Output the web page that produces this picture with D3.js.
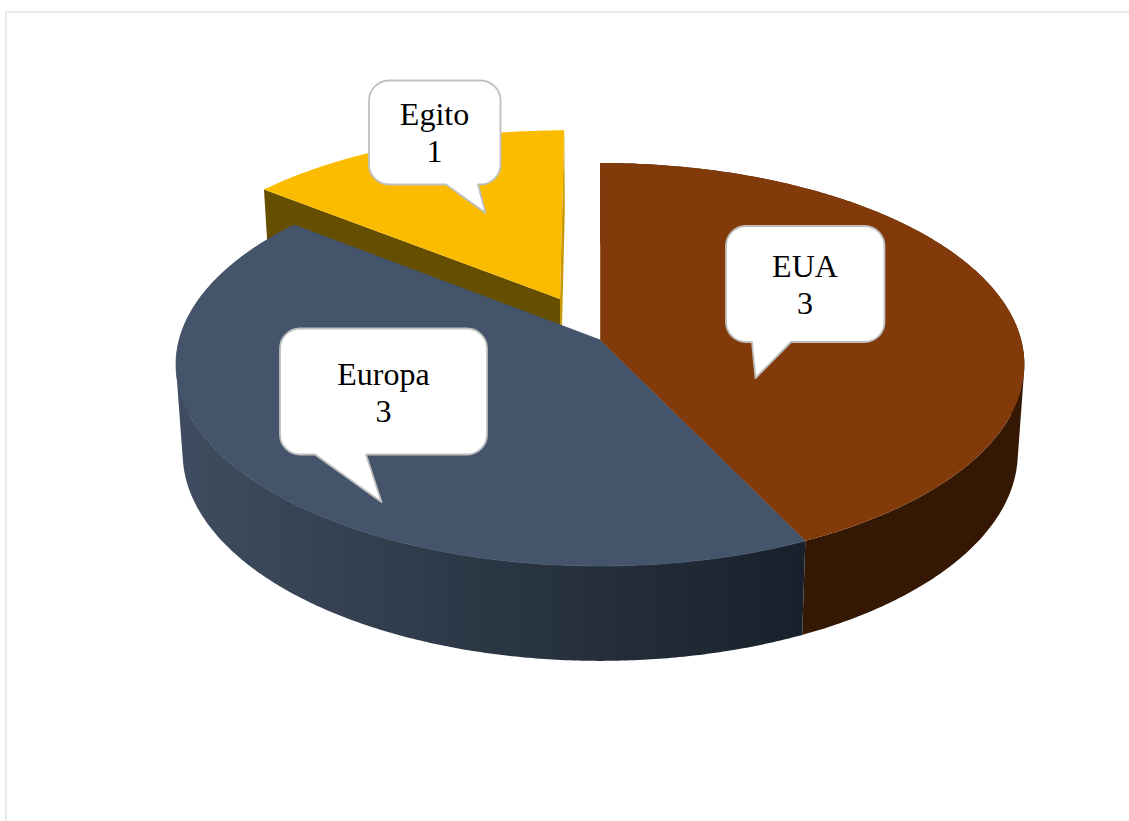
<!DOCTYPE html>
<html lang="pt">
<head>
<meta charset="utf-8">
<title>Egito, EUA, Europa</title>
<script src="https://cdn.jsdelivr.net/npm/d3@7/dist/d3.min.js"></script>
<style>
  html, body { margin: 0; padding: 0; background: #fff; overflow: hidden; }
  svg { display: block; }
  text { font-family: "Liberation Serif", serif; font-size: 32px; fill: #000; text-anchor: middle; }
</style>
</head>
<body>
<svg id="chart" width="1129" height="821"></svg>
<script>
// Slice data, in drawing order clockwise from twelve o'clock
const categories = ["EUA", "Europa", "Egito"];
const values = [3, 3, 1];
const explodedCategory = "Egito";

const topColors = { EUA: "#823a0b", Europa: "#44546a", Egito: "#fbbc00" };
const sideColors = { EUA: ["#341803", "#341803"], Europa: ["#3f4c5f", "#18212b"] };

// Perspective planes of the tilted disc: top face and bottom face
const topPlane = { cx: 600.2, cy: 340, a: 421, b: 198.5, k: 0.1216 };
const bottomPlane = { cx: 600.2, cy: 427.5, a: 414.5, b: 205, k: 0.1216 };
const explodeOffset = [-0.098, -0.212];

const project = (plane, x, y) => {
  const d = 1 - plane.k * y;
  return [plane.cx + plane.a * x / d, plane.cy + plane.b * y / d];
};

const svg = d3.select("#chart");
const defs = svg.append("defs");

// Thin panel border that runs off the right and bottom
svg.append("rect")
  .attr("x", 6).attr("y", 12).attr("width", 1300).attr("height", 1000)
  .attr("fill", "#fff").attr("stroke", "#e4e6e9").attr("stroke-width", 1.6);

const slices = d3.pie().sort(null)(values).map((s, i) => {
  const name = categories[i];
  const [ox, oy] = name === explodedCategory ? explodeOffset : [0, 0];
  return { name, start: s.startAngle, end: s.endAngle, ox, oy };
});
const byName = Object.fromEntries(slices.map(s => [s.name, s]));

const rimPoint = (plane, s, angle) =>
  project(plane, s.ox + Math.sin(angle), s.oy - Math.cos(angle));
const centerPoint = (plane, s) => project(plane, s.ox, s.oy);
const anglesOf = s => {
  const step = Math.PI / 360;
  return d3.range(s.start, s.end, step).concat([s.end]);
};
const polygon = d3.line();

// Curved outer wall: one compound path of same-wound quads, so the silhouette
// stays tangent between the two rims, with the shade running along screen x
function drawWall(s) {
  const id = "wall-" + s.name;
  defs.append("linearGradient")
    .attr("id", id)
    .attr("gradientUnits", "userSpaceOnUse")
    .attr("x1", 184).attr("x2", 803).attr("y1", 0).attr("y2", 0)
    .selectAll("stop").data(sideColors[s.name]).join("stop")
    .attr("offset", (d, i) => i)
    .attr("stop-color", d => d);
  const quads = d3.pairs(anglesOf(s)).map(([a0, a1]) => {
    const q = [
      rimPoint(topPlane, s, a0), rimPoint(topPlane, s, a1),
      rimPoint(bottomPlane, s, a1), rimPoint(bottomPlane, s, a0)
    ];
    return d3.polygonArea(q) < 0 ? q.reverse() : q;
  });
  svg.append("path")
    .attr("d", quads.map(q => polygon(q) + "Z").join(""))
    .attr("fill", `url(#${id})`);
}

function drawTop(s, seam) {
  const rim = anglesOf(s).map(a => rimPoint(topPlane, s, a));
  svg.append("path")
    .attr("d", polygon([centerPoint(topPlane, s), ...rim]) + "Z")
    .attr("fill", topColors[s.name])
    .attr("stroke", seam ? topColors[s.name] : "none")
    .attr("stroke-width", seam ? 0.8 : 0);
}

// Exploded slice: its two cut faces first, then its top
const eg = byName[explodedCategory];
const cutFace = (angle, fill) => svg.append("path")
  .attr("d", polygon([
    centerPoint(topPlane, eg), rimPoint(topPlane, eg, angle),
    rimPoint(bottomPlane, eg, angle), centerPoint(bottomPlane, eg)
  ]) + "Z")
  .attr("fill", fill);
cutFace(eg.end, "#c99800");
cutFace(eg.start, "#664e00");
drawTop(eg, false);

// Main body of the disc; the lower top face gets a hairline so no gap shows at the shared edge
drawWall(byName.EUA);
drawWall(byName.Europa);
drawTop(byName.Europa, true);
drawTop(byName.EUA, false);

// Speech-bubble data labels
const callouts = [
  { name: "Egito",  x0: 369, x1: 500.5, y0: 80.5,  y1: 184.5, base: [446, 478],   tip: [485.5, 213], cx: 434.5, b0: 125,   b1: 162 },
  { name: "EUA",    x0: 726, x1: 884.5, y0: 226,   y1: 342,   base: [752, 791],   tip: [755.5, 378], cx: 805,   b0: 277,   b1: 314 },
  { name: "Europa", x0: 280, x1: 487,   y0: 328.5, y1: 454.5, base: [315, 366],   tip: [381.5, 502], cx: 383.5, b0: 385,   b1: 422 }
];
const radius = 20;

function bubblePath(c) {
  const p = d3.path();
  p.moveTo(c.x0 + radius, c.y0);
  p.lineTo(c.x1 - radius, c.y0);
  p.arcTo(c.x1, c.y0, c.x1, c.y0 + radius, radius);
  p.lineTo(c.x1, c.y1 - radius);
  p.arcTo(c.x1, c.y1, c.x1 - radius, c.y1, radius);
  p.lineTo(c.base[1], c.y1);
  p.lineTo(c.tip[0], c.tip[1]);
  p.lineTo(c.base[0], c.y1);
  p.lineTo(c.x0 + radius, c.y1);
  p.arcTo(c.x0, c.y1, c.x0, c.y1 - radius, radius);
  p.lineTo(c.x0, c.y0 + radius);
  p.arcTo(c.x0, c.y0, c.x0 + radius, c.y0, radius);
  p.closePath();
  return p.toString();
}

const labels = svg.append("g").selectAll("g").data(callouts).join("g");
labels.append("path")
  .attr("d", bubblePath)
  .attr("fill", "#fff")
  .attr("stroke", "#bfbfbf")
  .attr("stroke-width", 1.8)
  .attr("stroke-linejoin", "round");
labels.append("text")
  .attr("x", d => d.cx).attr("y", d => d.b0)
  .text(d => d.name);
labels.append("text")
  .attr("x", d => d.cx).attr("y", d => d.b1)
  .text(d => values[categories.indexOf(d.name)]);
</script>
</body>
</html>
